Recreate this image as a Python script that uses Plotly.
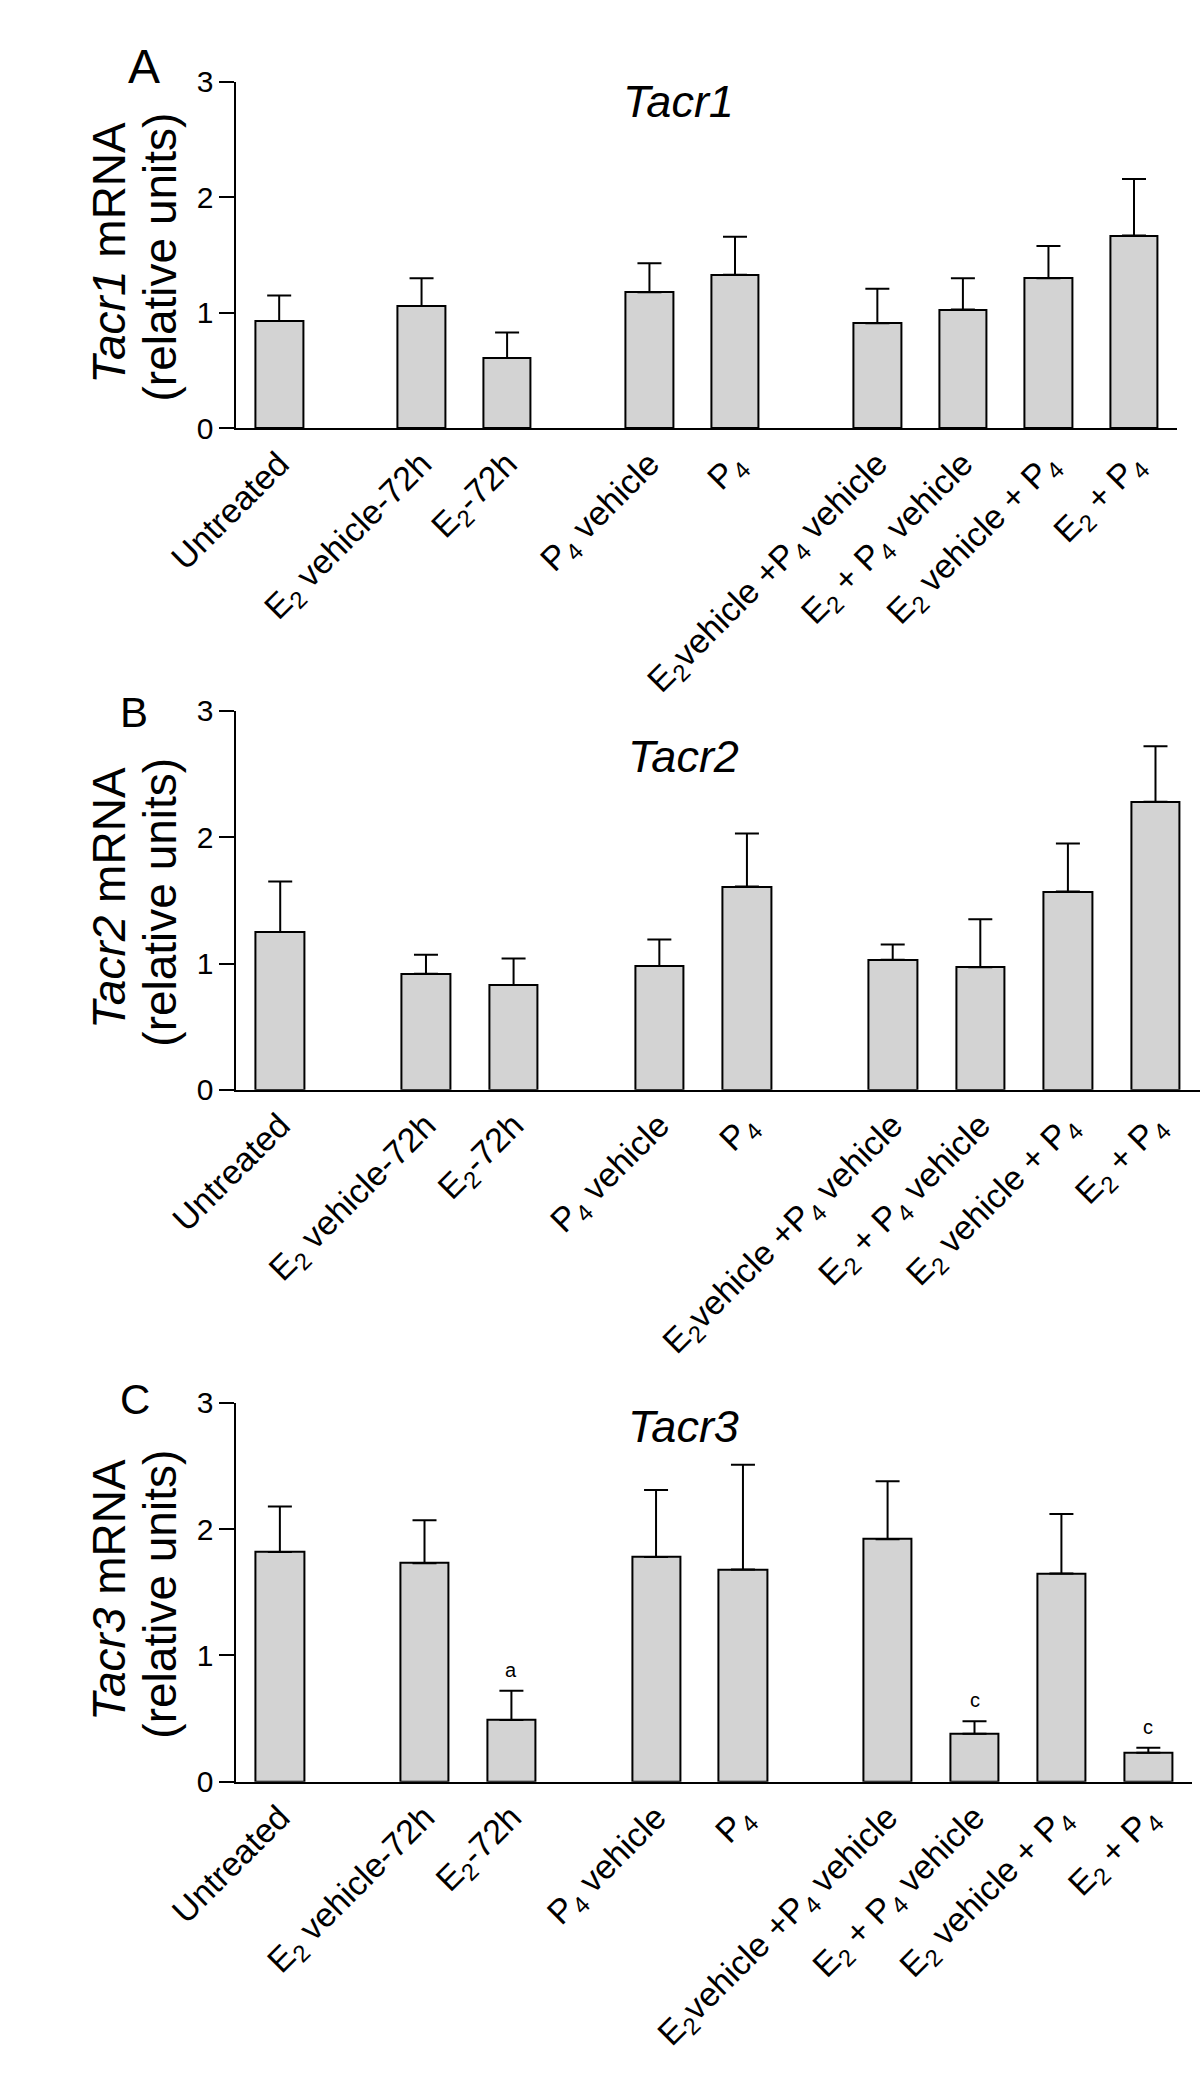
import plotly.graph_objects as go

# ---------------- data ----------------
categories = [
    "Untreated",
    "E<sub>2</sub> vehicle-72h",
    "E<sub>2</sub>-72h",
    "P<sub>4</sub> vehicle",
    "P<sub>4</sub>",
    "E<sub>2</sub>vehicle +P<sub>4</sub> vehicle",
    "E<sub>2</sub> + P<sub>4</sub> vehicle",
    "E<sub>2</sub> vehicle + P<sub>4</sub>",
    "E<sub>2</sub> + P<sub>4</sub>",
]
group_of = [0, 1, 1, 2, 2, 3, 3, 3, 3]

tacr1_mean = [0.93, 1.06, 0.61, 1.18, 1.33, 0.91, 1.03, 1.30, 1.67]
tacr1_sem = [0.22, 0.24, 0.22, 0.25, 0.33, 0.30, 0.27, 0.28, 0.49]

tacr2_mean = [1.25, 0.92, 0.83, 0.98, 1.61, 1.03, 0.97, 1.57, 2.28]
tacr2_sem = [0.40, 0.15, 0.21, 0.21, 0.42, 0.12, 0.38, 0.38, 0.44]

tacr3_mean = [1.82, 1.73, 0.49, 1.78, 1.68, 1.92, 0.38, 1.65, 0.23]
tacr3_sem = [0.36, 0.34, 0.23, 0.53, 0.83, 0.46, 0.10, 0.47, 0.04]
tacr3_sig = ["", "", "a", "", "", "", "c", "", "c"]

genes = ["Tacr1", "Tacr2", "Tacr3"]
panel_letters = ["A", "B", "C"]
y_ticks = [0, 1, 2, 3]

# ---------------- layout helpers ----------------
W, H = 1200, 2099
FONT = "Liberation Sans, Arial, Helvetica, sans-serif"
GROUP_GAP = 0.664
BAR_W = 0.555
xpos = [i + g * GROUP_GAP for i, g in enumerate(group_of)]

# pixel geometry of each panel: x-domain (left,right), y px of value 3 and 0
panels = [
    dict(xl=174, xr=1176, ytop=67, ybot=419, title_x=645, title_y=87,
         let_x=76, let_y=51, let_size=48),
    dict(xl=174, xr=1200, ytop=706, ybot=1091, title_x=650, title_y=752,
         let_x=65, let_y=708, let_size=42),
    dict(xl=174, xr=1192, ytop=1409, ybot=1794, title_x=650, title_y=1433,
         let_x=66, let_y=1406, let_size=42),
]
means = [tacr1_mean, tacr2_mean, tacr3_mean]
sems = [tacr1_sem, tacr2_sem, tacr3_sem]


def px_x(p):
    return p / W


def px_y(p):
    return 1 - p / H


fig = go.Figure()
annotations = []
layout_axes = {}

for k, pan in enumerate(panels):
    suffix = "" if k == 0 else str(k + 1)
    xa, ya = "x" + suffix, "y" + suffix
    fig.add_trace(go.Bar(
        x=xpos, y=means[k], width=BAR_W,
        marker=dict(color="#d3d3d3", line=dict(color="black", width=2)),
        error_y=dict(type="data", symmetric=False, array=sems[k],
                     arrayminus=[0] * len(means[k]), color="black",
                     thickness=2, width=12),
        xaxis=xa, yaxis=ya, showlegend=False, hoverinfo="skip",
    ))
    layout_axes["xaxis" + suffix] = dict(
        domain=[px_x(pan["xl"]), px_x(pan["xr"])],
        range=[-0.5, 10.5], anchor=ya,
        tickmode="array", tickvals=xpos, ticktext=categories,
        tickangle=-45, ticks="", showline=True, linecolor="black",
        linewidth=2, showgrid=False, zeroline=False,
        tickfont=dict(family=FONT, size=34, color="black"),
    )
    layout_axes["yaxis" + suffix] = dict(
        domain=[px_y(pan["ybot"]), px_y(pan["ytop"])],
        range=[0, 3], anchor=xa,
        tickmode="array", tickvals=y_ticks,
        ticks="outside", ticklen=15, tickwidth=2, tickcolor="black",
        showline=True, linecolor="black", linewidth=2,
        showgrid=False, zeroline=False,
        tickfont=dict(family=FONT, size=30, color="black"),
    )
    # gene title
    annotations.append(dict(
        text="<i>%s</i>" % genes[k], xref="paper", yref="paper",
        x=px_x(pan["title_x"]), y=px_y(pan["title_y"]),
        xanchor="center", yanchor="middle", showarrow=False,
        font=dict(family=FONT, size=45, color="black"),
    ))
    # panel letter
    annotations.append(dict(
        text=panel_letters[k], xref="paper", yref="paper",
        x=px_x(pan["let_x"]), y=px_y(pan["let_y"]),
        xanchor="center", yanchor="middle", showarrow=False,
        font=dict(family=FONT, size=pan["let_size"], color="black"),
    ))
    # y-axis title (two lines)
    ymid = (pan["ytop"] + pan["ybot"]) / 2
    annotations.append(dict(
        text="<i>%s</i> mRNA" % genes[k], xref="paper", yref="paper",
        x=px_x(39), y=px_y(ymid - 2), textangle=-90,
        xanchor="center", yanchor="middle", showarrow=False,
        font=dict(family=FONT, size=46, color="black"),
    ))
    annotations.append(dict(
        text="(relative units)", xref="paper", yref="paper",
        x=px_x(93), y=px_y(ymid + 2), textangle=-90,
        xanchor="center", yanchor="middle", showarrow=False,
        font=dict(family=FONT, size=46, color="black"),
    ))

# significance letters for Tacr3
for i, s in enumerate(tacr3_sig):
    if s:
        annotations.append(dict(
            text=s, xref="x3", yref="y3", x=xpos[i],
            y=tacr3_mean[i] + tacr3_sem[i], yshift=21,
            xanchor="center", yanchor="middle", showarrow=False,
            font=dict(family=FONT, size=20, color="black"),
        ))

fig.update_layout(
    width=W, height=H, margin=dict(l=0, r=0, t=0, b=0),
    paper_bgcolor="white", plot_bgcolor="white",
    font=dict(family=FONT, color="black"),
    annotations=annotations, bargap=0,
    **layout_axes,
)

fig.write_html("out.html", config={"displayModeBar": False},
               post_script="document.body.style.margin='0';")
